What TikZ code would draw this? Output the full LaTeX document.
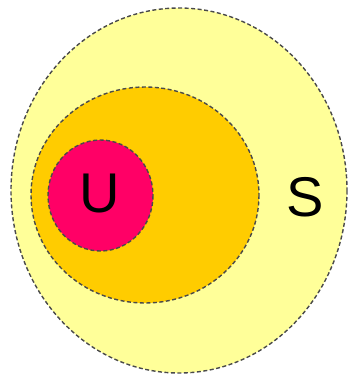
\documentclass[tikz,border=0pt]{standalone}
\usepackage{fontspec}
\setmainfont{Liberation Sans}
\definecolor{outerc}{HTML}{FFFF99}
\definecolor{midc}{HTML}{FFCC00}
\definecolor{innc}{HTML}{FF0066}
\definecolor{dashc}{HTML}{4A4A4A}
\begin{document}
\begin{tikzpicture}[x=1pt,y=-1pt,
  setline/.style={draw=dashc,line width=1.4pt,dash pattern=on 4pt off 2.5pt},
  lbl/.style={font=\fontsize{56}{60}\selectfont,text=black,inner sep=0pt}]
\useasboundingbox (0,0) rectangle (349,376);
\path[setline,fill=outerc] (179,190.5) ellipse [x radius=168,y radius=182.5];
\path[setline,fill=midc] (145,195) ellipse [x radius=114,y radius=108];
\path[setline,fill=innc] (100.5,195.5) ellipse [x radius=52.5,y radius=55.5];
\node[lbl] (U) at (100,194) {U};
\node[lbl] (S) at (305,197) {S};
\end{tikzpicture}
\end{document}
